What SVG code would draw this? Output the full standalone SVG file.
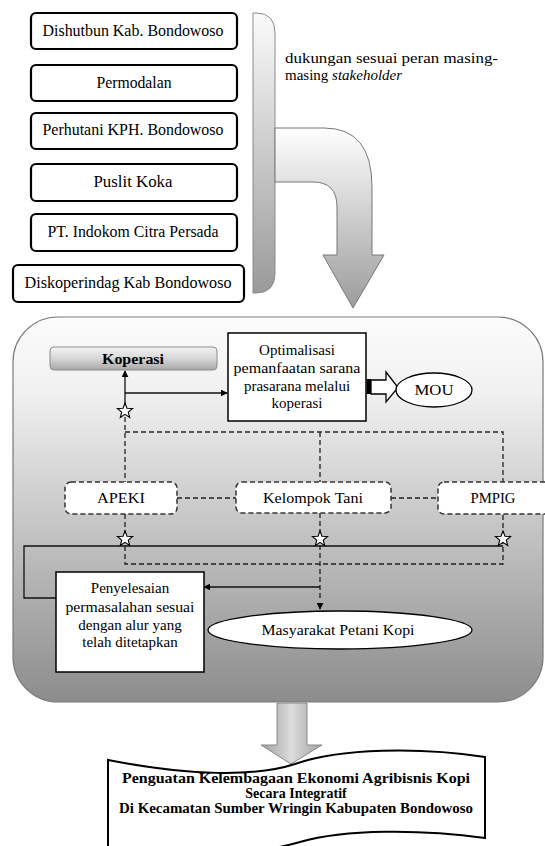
<svg xmlns="http://www.w3.org/2000/svg" width="545" height="846" viewBox="0 0 545 846" font-family="Liberation Serif, DejaVu Serif, serif">
<defs>
<linearGradient id="gBar" x1="0" y1="0" x2="0" y2="1"><stop offset="0" stop-color="#fbfbfb"/><stop offset="1" stop-color="#9a9a9a"/></linearGradient>
<linearGradient id="gBent" x1="0" y1="0" x2="0" y2="1"><stop offset="0" stop-color="#ffffff"/><stop offset="1" stop-color="#9c9c9c"/></linearGradient>
<linearGradient id="gBig" x1="0" y1="0" x2="0" y2="1"><stop offset="0" stop-color="#fcfcfc"/><stop offset="0.2" stop-color="#f0f0f0"/><stop offset="1" stop-color="#8c8c8c"/></linearGradient>
<linearGradient id="gKop" x1="0" y1="0" x2="0" y2="1"><stop offset="0" stop-color="#f4f4f4"/><stop offset="0.5" stop-color="#d6d6d6"/><stop offset="1" stop-color="#a8a8a8"/></linearGradient>
<linearGradient id="gDown" x1="0" y1="0" x2="1" y2="0"><stop offset="0" stop-color="#a0a0a0"/><stop offset="0.5" stop-color="#dcdcdc"/><stop offset="1" stop-color="#a0a0a0"/></linearGradient>
<marker id="ah" viewBox="0 0 10 10" refX="9" refY="5" markerWidth="7" markerHeight="7" orient="auto" markerUnits="userSpaceOnUse"><path d="M0,0 L10,5 L0,10 Z" fill="#000"/></marker>
<path id="star" d="M0,-8 L2,-2.8 L7.6,-2.5 L3.3,1.1 L4.7,6.5 L0,3.4 L-4.7,6.5 L-3.3,1.1 L-7.6,-2.5 L-2,-2.8 Z"/>
</defs>
<style>
text{font-family:'Liberation Serif','DejaVu Serif',serif;fill:#000}
.n{font-size:16px;text-anchor:middle}
.s{font-size:15px;text-anchor:middle}
.b{font-weight:bold}
.topbox{fill:#fff;stroke:#000;stroke-width:2.2}
.dbox{fill:#fff;stroke:#333;stroke-width:1.5;stroke-dasharray:5,3}
.dl{fill:none;stroke:#222;stroke-width:1.3;stroke-dasharray:5,3}
.sl{fill:none;stroke:#111;stroke-width:1.3}
.st{fill:#fff;stroke:#000;stroke-width:1.1}
</style>

<g id="bracket">
<path d="M253,13 H256 Q275,13 275,33 V273 Q275,293 256,293 H253 Z" fill="url(#gBar)" stroke="#8a8a8a" stroke-width="1"/>
<path d="M275,128 H324 Q372,128 372,187 V255 H384 L353,308 L323,255 H337 V207 Q337,182 313,182 H275 Z" fill="url(#gBent)" stroke="#777" stroke-width="1"/>
</g>
<g id="label-dukungan">
<text x="285" y="63" font-size="15" textLength="213" lengthAdjust="spacingAndGlyphs">dukungan sesuai  peran  masing-</text>
<text x="285" y="80" font-size="15">masing <tspan font-style="italic">stakeholder</tspan></text>
</g>

<g id="dishutbun"><rect class="topbox" x="31" y="13" width="206" height="36" rx="5"/><text class="n" x="133" y="36" textLength="181" lengthAdjust="spacingAndGlyphs">Dishutbun Kab. Bondowoso</text></g>
<g id="permodalan"><rect class="topbox" x="31" y="65" width="206" height="36" rx="5"/><text class="n" x="134" y="88" textLength="75" lengthAdjust="spacingAndGlyphs">Permodalan</text></g>
<g id="perhutani"><rect class="topbox" x="31" y="113" width="206" height="36" rx="5"/><text class="n" x="133" y="135" textLength="181" lengthAdjust="spacingAndGlyphs">Perhutani KPH. Bondowoso</text></g>
<g id="puslit"><rect class="topbox" x="31" y="164" width="206" height="37" rx="5"/><text class="n" x="133" y="187" textLength="79" lengthAdjust="spacingAndGlyphs">Puslit Koka</text></g>
<g id="indokom"><rect class="topbox" x="31" y="214" width="206" height="37" rx="5"/><text class="n" x="133" y="237" textLength="171" lengthAdjust="spacingAndGlyphs">PT. Indokom Citra Persada</text></g>
<g id="diskoperindag"><rect class="topbox" x="13" y="265" width="231" height="37" rx="5"/><text class="n" x="128" y="288" textLength="207" lengthAdjust="spacingAndGlyphs">Diskoperindag Kab Bondowoso</text></g>

<g id="container"><rect x="13" y="317" width="530" height="385" rx="45" fill="url(#gBig)" stroke="#7a7a7a" stroke-width="1.2"/></g>

<g id="down-arrow"><path d="M277,703 H307 V745 H322 L291,764 L261,745 H277 Z" fill="url(#gDown)" stroke="#888" stroke-width="1"/></g>

<g id="connectors">
<path class="sl" d="M125,405 V371" marker-end="url(#ah)"/>
<path class="sl" d="M125,393 H227" marker-end="url(#ah)"/>
<path class="dl" d="M125,417 V482"/>
<path class="dl" d="M125,432 H503 V482"/>
<path class="dl" d="M320,432 V482"/>
<path class="dl" d="M177,498 H236"/>
<path class="dl" d="M391,498 H438"/>
<path class="dl" d="M125,514 V564 H503 V514"/>
<path class="dl" d="M320,513 V600"/>
<path class="sl" d="M320,604 V609" marker-end="url(#ah)"/>
<path class="sl" d="M503,546 H24 V598 H56"/>
<path class="sl" d="M320,587 H204" marker-end="url(#ah)"/>
<path d="M366.5,379 H371 V394 H366.5 Z" fill="#000"/>
<path d="M371,380 H386 V372 L398,387.5 L386,402 V394 H371 Z" fill="#fff" stroke="#000" stroke-width="1.3"/>
<use href="#star" x="125" y="411" class="st"/>
<use href="#star" x="125" y="539" class="st"/>
<use href="#star" x="320" y="539" class="st"/>
<use href="#star" x="503" y="539" class="st"/>
</g>

<g id="koperasi"><rect x="50" y="347" width="167" height="23" rx="4" fill="url(#gKop)" stroke="#8c8c8c" stroke-width="1"/><text class="s b" x="133" y="364" textLength="62" lengthAdjust="spacingAndGlyphs">Koperasi</text></g>
<g id="optimalisasi"><rect x="228" y="333" width="138" height="88" fill="#fff" stroke="#000" stroke-width="1.5"/>
<text class="s" x="297" y="355">Optimalisasi</text>
<text class="s" x="297" y="373" textLength="127" lengthAdjust="spacingAndGlyphs">pemanfaatan sarana</text>
<text class="s" x="297" y="391">prasarana melalui</text>
<text class="s" x="297" y="408">koperasi</text></g>
<g id="mou"><ellipse cx="434" cy="390" rx="38" ry="17" fill="#fff" stroke="#000" stroke-width="1.3"/><text class="s" x="434" y="395" textLength="39" lengthAdjust="spacingAndGlyphs">MOU</text></g>
<g id="apeki"><rect class="dbox" x="65" y="482" width="112" height="32" rx="6"/><text class="s" x="121" y="503" textLength="48" lengthAdjust="spacingAndGlyphs">APEKI</text></g>
<g id="kelompok-tani"><rect class="dbox" x="236" y="482" width="155" height="31" rx="6"/><text class="s" x="313" y="503" textLength="100" lengthAdjust="spacingAndGlyphs">Kelompok Tani</text></g>
<g id="pmpig"><rect class="dbox" x="438" y="482" width="125" height="32" rx="6"/><text class="s" x="493" y="503" textLength="45" lengthAdjust="spacingAndGlyphs">PMPIG</text></g>
<g id="penyelesaian"><rect x="56" y="572" width="148" height="100" fill="#fff" stroke="#000" stroke-width="1.5"/>
<text class="s" x="130" y="593">Penyelesaian</text>
<text class="s" x="130" y="612" textLength="129" lengthAdjust="spacingAndGlyphs">permasalahan sesuai</text>
<text class="s" x="130" y="630">dengan alur yang</text>
<text class="s" x="130" y="647">telah ditetapkan</text></g>
<g id="masyarakat"><ellipse cx="340" cy="630" rx="132" ry="19" fill="#fff" stroke="#000" stroke-width="1.3"/><text class="s" x="338" y="635" textLength="153" lengthAdjust="spacingAndGlyphs">Masyarakat Petani Kopi</text></g>

<g id="result">
<path d="M108,760 C190,776 255,777 295,764 C340,748 420,747 485,757 V838 C420,829 345,829 300,842 C255,855 190,858 108,848 Z" fill="#fff" stroke="#000" stroke-width="2"/>
<text class="b" x="296" y="783" font-size="14" text-anchor="middle" textLength="348" lengthAdjust="spacingAndGlyphs">Penguatan Kelembagaan Ekonomi Agribisnis Kopi</text>
<text class="b" x="296" y="798" font-size="14" text-anchor="middle">Secara Integratif</text>
<text class="b" x="296" y="813" font-size="14" text-anchor="middle" textLength="354" lengthAdjust="spacingAndGlyphs">Di Kecamatan Sumber Wringin Kabupaten Bondowoso</text>
</g>
</svg>
